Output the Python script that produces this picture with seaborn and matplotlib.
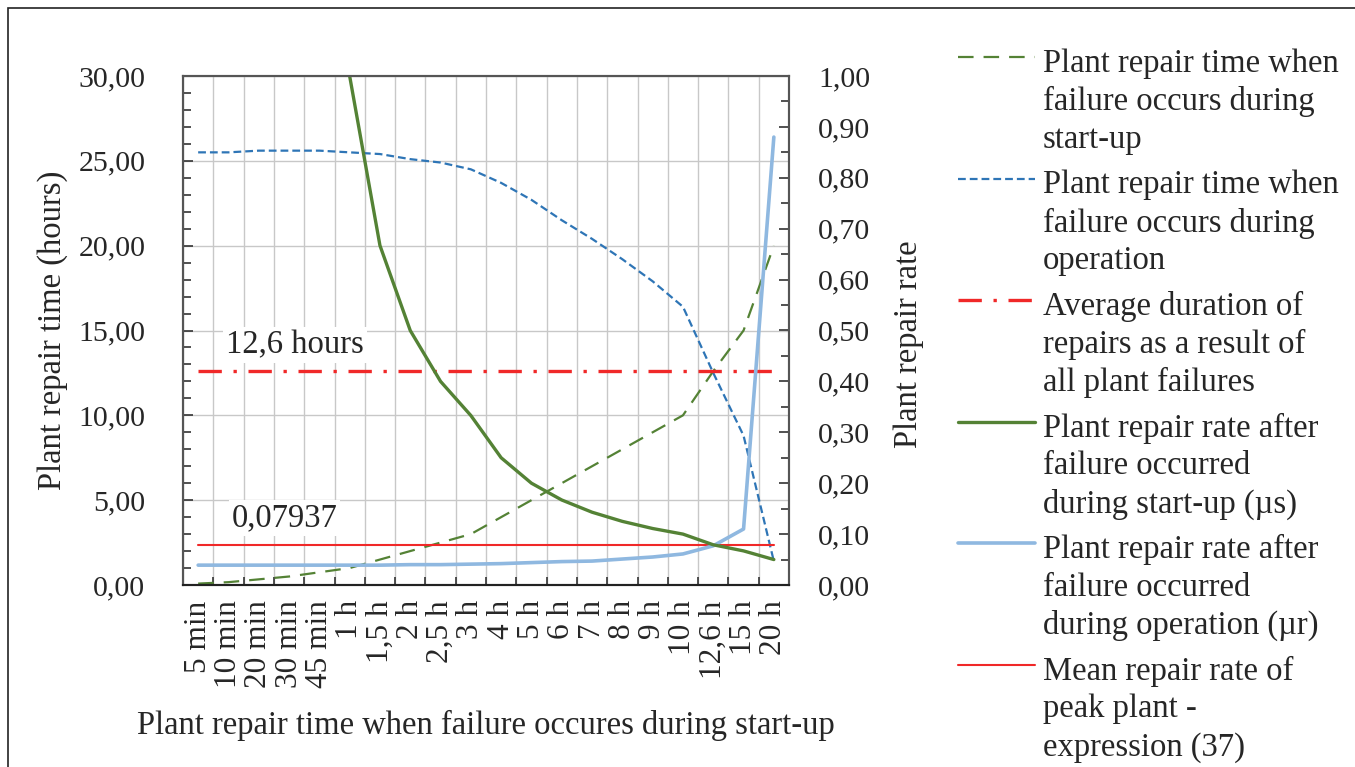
#plot of plant repair times and repair rates

import numpy as np
import pandas as pd
import seaborn as sns
from matplotlib import pyplot as plt
from matplotlib.lines import Line2D
from matplotlib.patches import Rectangle
from matplotlib.ticker import MultipleLocator, FuncFormatter

#data
labels = ["5 min", "10 min", "20 min", "30 min", "45 min", "1 h", "1,5 h", "2 h",
          "2,5 h", "3 h", "4 h", "5 h", "6 h", "7 h", "8 h", "9 h", "10 h",
          "12,6 h", "15 h", "20 h"]
startup_time = [0.083, 0.167, 0.333, 0.5, 0.75, 1, 1.5, 2, 2.5, 3, 4, 5, 6, 7, 8, 9,
                10, 12.6, 15, 20]
operation_time = [25.5, 25.5, 25.6, 25.6, 25.6, 25.5, 25.4, 25.1, 24.9, 24.5, 23.7,
                  22.7, 21.5, 20.4, 19.2, 17.9, 16.4, 12.5, 8.8, 1.4]
avg_repair_time = 12.6
rate_startup = [12.0, 6.0, 3.0, 2.0, 1.333, 1.0, 0.667, 0.5, 0.4, 0.333, 0.25, 0.2,
                0.167, 0.143, 0.125, 0.111, 0.1, 0.079, 0.067, 0.05]
rate_operation = [0.039, 0.039, 0.039, 0.039, 0.039, 0.039, 0.039, 0.040, 0.040,
                  0.041, 0.042, 0.044, 0.046, 0.047, 0.051, 0.055, 0.061, 0.077,
                  0.11, 0.88]
mean_rate = 0.07937

legend_labels = [
    ["Plant repair time when", "failure occurs during", "start-up"],
    ["Plant repair time when", "failure occurs during", "operation"],
    ["Average duration of", "repairs as a result of", "all plant failures"],
    ["Plant repair rate after", "failure occurred", "during start-up (\u00b5s)"],
    ["Plant repair rate after", "failure occurred", "during operation (\u00b5r)"],
    ["Mean repair rate of", "peak plant -", "expression (37)"],
]

sns.set_theme(style="white")
plt.rcParams['font.family'] = ['Liberation Serif', 'DejaVu Serif']
plt.rcParams['font.size'] = 21
TXT = 23.5

GREEN = "#548235"
BLUE = "#2E75B6"
LIGHTBLUE = "#8FB8E0"
RED = "#F02828"

df = pd.DataFrame({
    "pos": np.arange(len(labels)),
    "startup_time": startup_time,
    "operation_time": operation_time,
    "avg": [avg_repair_time] * len(labels),
    "rate_startup": rate_startup,
    "rate_operation": rate_operation,
    "mean_rate": [mean_rate] * len(labels),
})

W, H = 1355, 767
fig = plt.figure(figsize=(W / 100, H / 100), dpi=100)
ax = fig.add_axes([183 / W, 1 - 585 / H, 606 / W, 509 / H])
ax2 = ax.twinx()

#styles shared by plot lines and legend
styles = [
    dict(color=GREEN, lw=1.6, ls=(0, (7, 4.5))),
    dict(color=BLUE, lw=1.6, ls=(0, (3.5, 1.8))),
    dict(color=RED, lw=2.4, ls=(0, (7, 3.5, 1, 3.5))),
    dict(color=GREEN, lw=2.4, ls="-"),
    dict(color=LIGHTBLUE, lw=2.6, ls="-"),
    dict(color=RED, lw=1.5, ls="-"),
]

sns.lineplot(data=df, x="pos", y="startup_time", ax=ax, **styles[0])
sns.lineplot(data=df, x="pos", y="operation_time", ax=ax, **styles[1])
sns.lineplot(data=df, x="pos", y="avg", ax=ax, **styles[2])
sns.lineplot(data=df, x="pos", y="mean_rate", ax=ax2, **styles[5])
sns.lineplot(data=df, x="pos", y="rate_operation", ax=ax2, **styles[4])
sns.lineplot(data=df, x="pos", y="rate_startup", ax=ax2, **styles[3])

comma = FuncFormatter(lambda v, p: f"{v:.2f}".replace(".", ","))

ax.set_xlim(-0.5, len(labels) - 0.5)
ax.set_xticks(np.arange(len(labels)))
ax.set_xticklabels(labels, rotation=90)
ax.set_xticks(np.arange(-0.5, len(labels), 1), minor=True)
ax.tick_params(axis="x", which="major", length=0, pad=11, labelsize=22.5)
ax.tick_params(axis="x", which="minor", direction="in", length=6, width=1.2,
               color="#333333", bottom=True)

ax.set_ylim(0, 30)
ax.yaxis.set_major_locator(MultipleLocator(5))
ax.yaxis.set_minor_locator(MultipleLocator(1))
ax.yaxis.set_major_formatter(comma)
ax.tick_params(axis="y", which="both", direction="in", left=True, color="#333333",
               width=1.2, pad=27, labelsize=21.5)
ax.tick_params(axis="y", which="major", length=7)
ax.tick_params(axis="y", which="minor", length=6)

ax2.set_ylim(0, 1)
ax2.yaxis.set_major_locator(MultipleLocator(0.1))
ax2.yaxis.set_minor_locator(MultipleLocator(0.05))
ax2.yaxis.set_major_formatter(comma)
ax2.tick_params(axis="y", which="both", direction="in", right=True, color="#333333",
                width=1.2, pad=21, labelsize=21.5)
ax2.tick_params(axis="y", which="major", length=7)
ax2.tick_params(axis="y", which="minor", length=6)

ax.set_axisbelow(True)
ax.grid(which="minor", axis="x", color="#C8C8C8", lw=1.0)
ax.grid(which="major", axis="y", color="#C8C8C8", lw=1.0)
ax2.grid(False)

for a in (ax, ax2):
    for s in a.spines.values():
        s.set_color("#555555")
        s.set_linewidth(1.5)
    a.spines["bottom"].set_color("#222222")

ax.set_xlabel("Plant repair time when failure occures during start-up", fontsize=TXT)
ax.xaxis.set_label_coords(0.5, -0.245)
ax.set_ylabel("Plant repair time (hours)", fontsize=TXT)
ax.yaxis.set_label_coords(-0.19, 0.5)
ax2.set_ylabel("Plant repair rate", fontsize=TXT)
ax2.yaxis.set_label_coords(1.172, 0.473)

#value labels with white boxes
ax.text(3.2, 14.15, "12,6 hours", ha="center", va="center", fontsize=TXT, zorder=4,
        bbox=dict(facecolor="white", edgecolor="none", pad=2))
ax.text(2.85, 3.95, "0,07937", ha="center", va="center", fontsize=TXT, zorder=4,
        bbox=dict(facecolor="white", edgecolor="none", pad=2))

#legend drawn by hand so handles sit on the first line of each label
for i, (lines, st) in enumerate(zip(legend_labels, styles)):
    y0 = 57 + i * 121.5
    fig.add_artist(Line2D([958 / W, 1035 / W], [1 - y0 / H, 1 - y0 / H],
                          transform=fig.transFigure, color=st["color"], lw=st["lw"],
                          ls=st["ls"]))
    for j, line in enumerate(lines):
        fig.text(1043 / W, 1 - (y0 + 3 + j * 38) / H, line, va="center_baseline",
                 ha="left", fontsize=TXT)

#frame round the figure
fig.add_artist(Rectangle((8 / W, -0.1), 1.2, 1.1 - 8 / H, transform=fig.transFigure,
                         fill=False, edgecolor="#222222", lw=1.2))

fig.savefig("out.png", dpi=100)
